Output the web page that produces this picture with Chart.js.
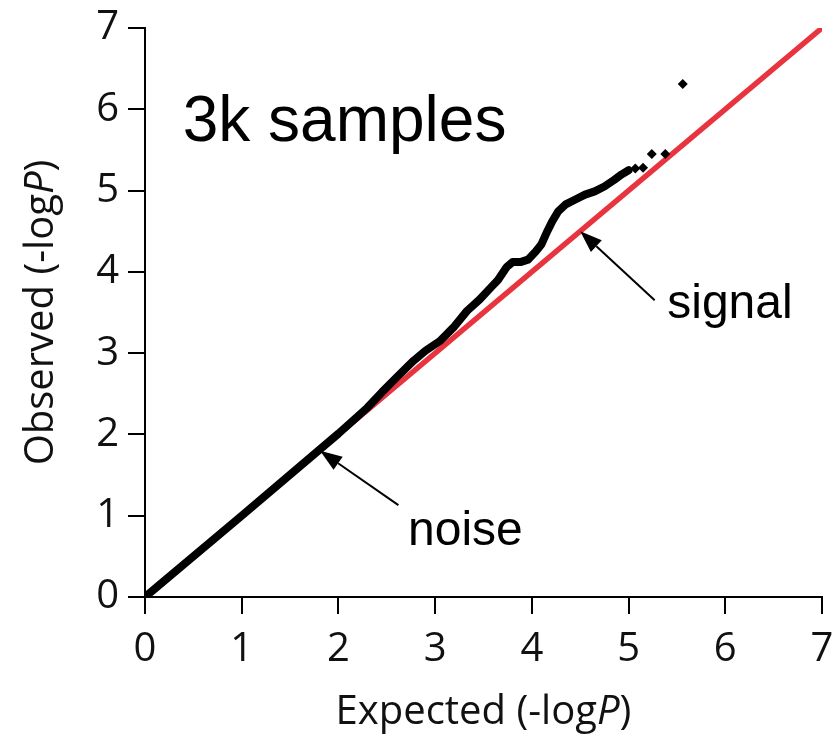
<!DOCTYPE html>
<html>
<head>
<meta charset="utf-8">
<script src="https://cdn.jsdelivr.net/npm/chart.js@4.4.1/dist/chart.umd.min.js"></script>
<style>
  html, body { margin: 0; background: #fff; }
  #wrap { width: 834px; height: 736px; }
</style>
</head>
<body>
<div id="wrap"><canvas id="qq"></canvas></div>
<script>
// QQ plot, 3k samples: expected vs observed -log10 P
const expectedX = [0, 1, 2, 2.3, 2.45, 2.6, 2.78, 2.9, 3.05, 3.2, 3.33, 3.46, 3.57, 3.65, 3.74, 3.8, 3.88, 3.96, 4.04, 4.1, 4.16, 4.21, 4.27, 4.35, 4.45, 4.55, 4.65, 4.75, 4.85, 4.93, 5.0];
const observedY = [0, 1, 2.01, 2.33, 2.52, 2.7, 2.91, 3.03, 3.15, 3.33, 3.52, 3.66, 3.8, 3.9, 4.06, 4.12, 4.12, 4.15, 4.25, 4.34, 4.5, 4.62, 4.74, 4.83, 4.89, 4.95, 4.99, 5.05, 5.13, 5.2, 5.25];
// the sparse top points
const tailX = [5.07, 5.15, 5.24, 5.38, 5.56];
const tailY = [5.27, 5.28, 5.45, 5.45, 6.31];
// y = x reference
const refX = [0, 7];
const refY = [0, 7];
const axisMin = 0, axisMax = 7;

const pts = (xs, ys) => xs.map((x, i) => ({ x, y: ys[i] }));

const TICK_FONT = { family: "'Open Sans', sans-serif", size: 40 };
const LABEL_FONT = "Liberation Sans, Arial, sans-serif";

// annotation positions in data units
const notes = {
  title:  { x: 0.39, y: 5.61, text: "3k samples", size: 64 },
  signal: { x: 5.40, y: 3.43, text: "signal", size: 48, from: [5.27, 3.65], to: [4.5, 4.5] },
  noise:  { x: 2.72, y: 0.64, text: "noise",  size: 48, from: [2.62, 1.13], to: [1.81, 1.80] }
};

function arrow(ctx, x1, y1, x2, y2) {
  const a = Math.atan2(y2 - y1, x2 - x1), len = 22, hw = 8;
  const bx = x2 - len * Math.cos(a), by = y2 - len * Math.sin(a);
  ctx.beginPath(); ctx.moveTo(x1, y1); ctx.lineTo(bx, by);
  ctx.lineWidth = 2; ctx.strokeStyle = "#000"; ctx.stroke();
  ctx.beginPath();
  ctx.moveTo(x2, y2);
  ctx.lineTo(bx + hw * Math.sin(a), by - hw * Math.cos(a));
  ctx.lineTo(bx - hw * Math.sin(a), by + hw * Math.cos(a));
  ctx.closePath(); ctx.fillStyle = "#000"; ctx.fill();
}

// axis title with italic P
function mixedTitle(ctx, prefix, x, y, rot) {
  const up = "40px 'Open Sans', sans-serif", it = "italic 40px 'Open Sans', sans-serif";
  ctx.save();
  ctx.translate(x, y); ctx.rotate(rot);
  ctx.font = up; const w1 = ctx.measureText(prefix).width, w3 = ctx.measureText(")").width;
  ctx.font = it; const w2 = ctx.measureText("P").width;
  let cx = -(w1 + w2 + w3) / 2;
  ctx.fillStyle = "#111"; ctx.textBaseline = "middle"; ctx.textAlign = "left";
  ctx.font = up; ctx.fillText(prefix, cx, 0); cx += w1;
  ctx.font = it; ctx.fillText("P", cx, 0); cx += w2;
  ctx.font = up; ctx.fillText(")", cx, 0);
  ctx.restore();
}

const extras = {
  id: "extras",
  afterDraw(chart) {
    const { ctx, chartArea: ca, scales: { x, y } } = chart;
    const cxMid = (ca.left + ca.right) / 2, cyMid = (ca.top + ca.bottom) / 2;
    mixedTitle(ctx, "Expected (-log", cxMid, 713, 0);
    mixedTitle(ctx, "Observed (-log", 42, cyMid, -Math.PI / 2);
    ctx.save();
    ctx.fillStyle = "#000"; ctx.textBaseline = "alphabetic"; ctx.textAlign = "left";
    Object.values(notes).forEach(n => {
      ctx.font = n.size + "px " + LABEL_FONT;
      ctx.fillText(n.text, x.getPixelForValue(n.x), y.getPixelForValue(n.y));
      if (n.from) arrow(ctx, x.getPixelForValue(n.from[0]), y.getPixelForValue(n.from[1]),
                        x.getPixelForValue(n.to[0]), y.getPixelForValue(n.to[1]));
    });
    ctx.restore();
  }
};

const axisCommon = {
  type: "linear", min: axisMin, max: axisMax,
  border: { display: true, color: "#000", width: 2 },
  grid: { display: true, drawOnChartArea: false, drawTicks: true, tickLength: 17, color: "#000", lineWidth: 2 },
  ticks: { stepSize: 1, color: "#111", font: TICK_FONT }
};

new Chart(document.getElementById("qq"), {
  type: "scatter",
  data: {
    datasets: [
      { label: "expected", data: pts(refX, refY), showLine: true, borderColor: "#E8343F", borderWidth: 5.5, pointRadius: 0, order: 3 },
      { label: "observed", data: pts(expectedX, observedY), showLine: true, borderColor: "#000", borderWidth: 8,
        borderJoinStyle: "round", borderCapStyle: "round", pointRadius: 0, order: 2 },
      { label: "tail", data: pts(tailX, tailY), pointStyle: "rectRot", pointRadius: 5, backgroundColor: "#000", borderColor: "#000", borderWidth: 0, order: 1 }
    ]
  },
  options: {
    responsive: true, maintainAspectRatio: false, animation: false,
    layout: { padding: { top: 28, right: 12, left: 0, bottom: 0 } },
    plugins: { legend: { display: false }, tooltip: { enabled: false } },
    scales: {
      x: Object.assign({}, axisCommon, {
        ticks: Object.assign({}, axisCommon.ticks, { padding: 12, maxRotation: 0 }),
        afterFit(s) { s.height = 139; s.paddingLeft = 0; s.paddingRight = 0; }
      }),
      y: Object.assign({}, axisCommon, {
        ticks: Object.assign({}, axisCommon.ticks, { padding: 9 }),
        afterFit(s) { s.width = 145; s.paddingTop = 0; s.paddingBottom = 0; }
      })
    }
  },
  plugins: [extras]
});
</script>
</body>
</html>
